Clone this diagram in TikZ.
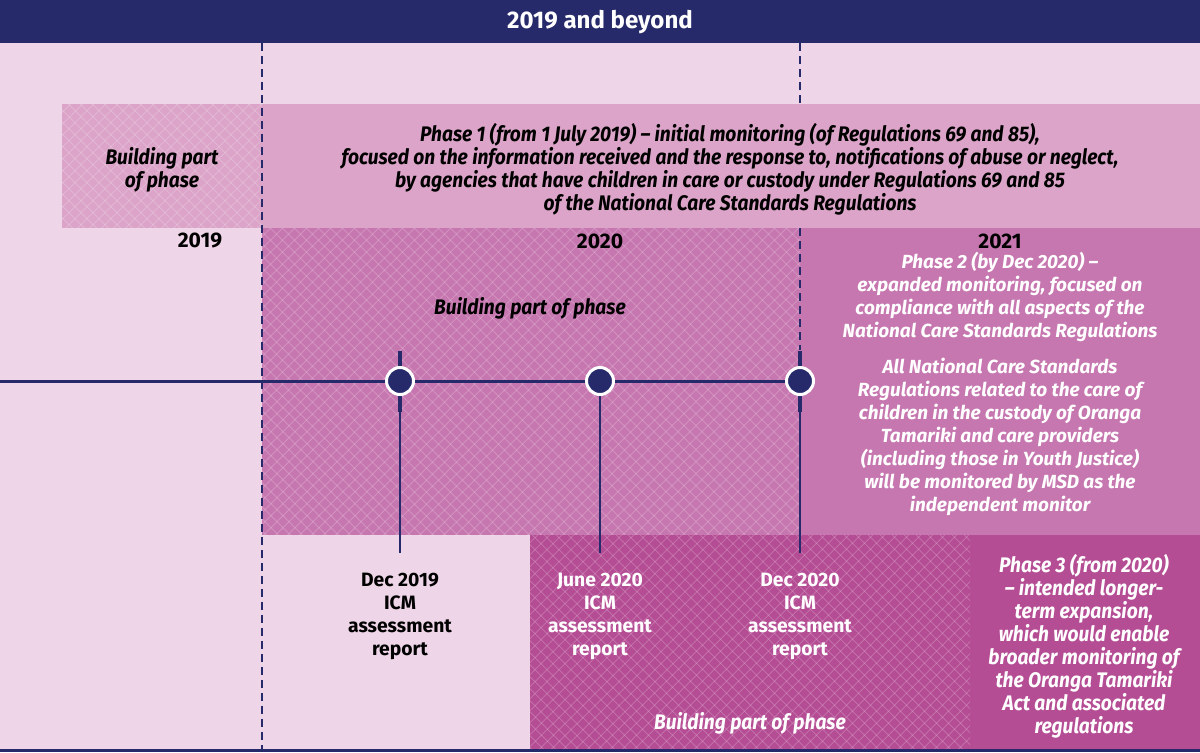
\documentclass[tikz,border=0pt]{standalone}
\usepackage{fontspec}
\setmainfont{Fira Sans}
\newfontfamily\condfont[FakeStretch=0.91]{Fira Sans}
\usetikzlibrary{patterns.meta}
\definecolor{navy}{RGB}{38,42,106}
\definecolor{bgpk}{RGB}{238,213,231}
\definecolor{phpk}{RGB}{219,164,200}
\definecolor{midpk}{RGB}{199,119,176}
\definecolor{darkpk}{RGB}{181,77,149}
\tikzset{
  hdr/.style ={text=white,font=\fontsize{13.7}{16}\selectfont\bfseries},
  yr/.style  ={font=\fontsize{12}{14}\selectfont\bfseries},
  note/.style={align=center,inner sep=0pt,font=\fontsize{12}{13.1}\selectfont\condfont\bfseries\itshape},
  ph/.style  ={align=center,inner sep=0pt,font=\fontsize{10.8}{13.1}\selectfont\bfseries\itshape},
  rpt/.style ={align=center,inner sep=0pt,font=\fontsize{11}{13.1}\selectfont\bfseries},
  hta/.style ={pattern={Lines[angle=45,distance=0.18cm,line width=0.45pt]},pattern color=white,fill opacity=0.27},
  htb/.style ={pattern={Lines[angle=-45,distance=0.18cm,line width=0.45pt]},pattern color=white,fill opacity=0.27},
  dline/.style={navy,line width=0.8pt,dash pattern=on 0.16cm off 0.1cm},
  tl/.style  ={navy,line width=1.7pt},
  tick/.style={navy,line width=2.5pt},
  drop/.style={navy,line width=1.1pt},
  ms/.style  ={circle,fill=navy,draw=white,line width=1.7pt,minimum size=0.54cm,inner sep=0pt},
}
\begin{document}
\begin{tikzpicture}[x=0.02cm,y=-0.02cm]
  \useasboundingbox (0,0) rectangle (1200,752);
  \fill[bgpk] (0,43) rectangle (1200,752);
  \fill[navy] (0,0) rectangle (1200,43);
  \node[hdr] (head) at (600,22) {2019 and beyond};
  % bands
  \fill[midpk] (262,228) rectangle (1200,535);
  \fill[hta] (262,228) rectangle (800,535); \fill[htb] (262,228) rectangle (800,535);
  \fill[darkpk] (530,535) rectangle (1200,749);
  \fill[hta] (530,535) rectangle (970,749); \fill[htb] (530,535) rectangle (970,749);
  \fill[phpk] (62,104) rectangle (1200,228);
  \fill[hta] (62,104) rectangle (262,228); \fill[htb] (62,104) rectangle (262,228);
  \draw[navy,line width=1.7pt] (0,750.5) -- (1200,750.5);
  % year dividers
  \draw[dline] (262,43) -- (262,749);
  \draw[dline] (800,43) -- (800,104);
  \draw[dline] (800,228) -- (800,350);
  \node[note] (bld1) at (162,170) {Building part\\of phase};
  \node[note] (ph1) at (730,169) {Phase 1 (from 1 July 2019) – initial monitoring (of Regulations 69 and 85),\\
    focused on the information received and the response to, notifications of abuse or neglect,\\
    by agencies that have children in care or custody under Regulations 69 and 85\\
    of the National Care Standards Regulations};
  \node[yr] (y19) at (200,241) {2019};
  \node[yr] (y20) at (600,241) {2020};
  \node[yr] (y21) at (1000,241) {2021};
  \node[note] (bld2) at (530,308) {Building part of phase};
  \node[ph,text=white] (ph2) at (1000,297) {Phase 2 (by Dec 2020) –\\expanded monitoring, focused on\\compliance with all aspects of the\\National Care Standards Regulations};
  \node[ph,text=white] (all) at (1000,437) {All National Care Standards\\Regulations related to the care of\\children in the custody of Oranga\\Tamariki and care providers\\(including those in Youth Justice)\\will be monitored by MSD as the\\independent monitor};
  \node[note,text=white] (ph3) at (1084,646) {Phase 3 (from 2020)\\– intended longer-\\term expansion,\\which would enable\\broader monitoring of\\the Oranga Tamariki\\Act and associated\\regulations};
  \node[note,text=white] (bld3) at (750,723) {Building part of phase};
  % timeline
  \coordinate (t0) at (0,381);
  \coordinate (k1a) at (400,351); \coordinate (k1b) at (400,412);
  \coordinate (k3a) at (800,351); \coordinate (k3b) at (800,412);
  \coordinate (d1) at (400,553); \coordinate (d2) at (600,553); \coordinate (d3) at (800,553);
  \draw[tick] (k1a) -- (k1b); \draw[tick] (k3a) -- (k3b);
  \draw[tl] (t0) -- (800,381);
  \draw[drop] (400,381) -- (d1); \draw[drop] (600,381) -- (d2); \draw[drop] (800,381) -- (d3);
  \node[ms] (m1) at (400,381) {};
  \node[ms] (m2) at (600,381) {};
  \node[ms] (m3) at (800,381) {};
  \node[rpt] (r1) at (400,616) {Dec 2019\\ICM\\assessment\\report};
  \node[rpt,text=white] (r2) at (600,616) {June 2020\\ICM\\assessment\\report};
  \node[rpt,text=white] (r3) at (800,616) {Dec 2020\\ICM\\assessment\\report};
\end{tikzpicture}
\end{document}
